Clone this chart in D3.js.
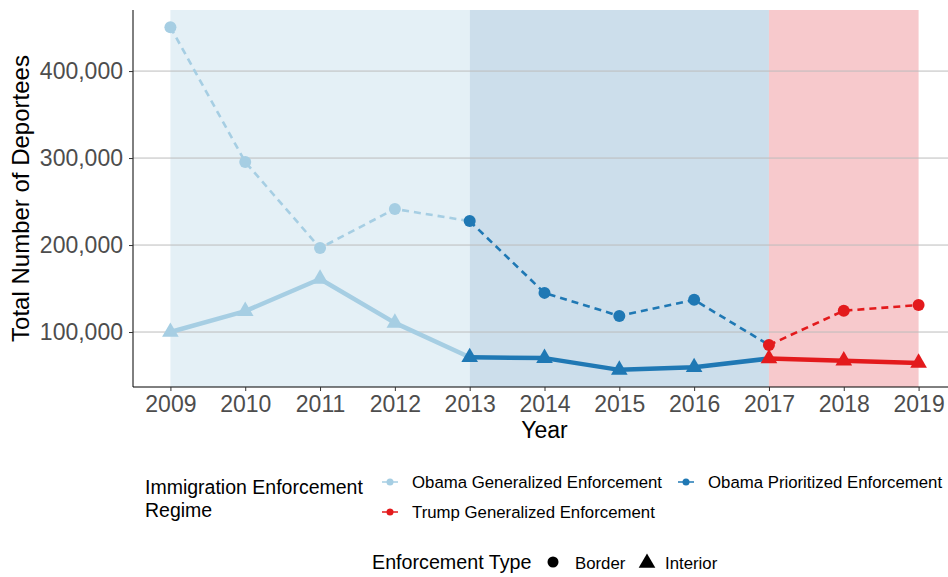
<!DOCTYPE html>
<html>
<head>
<meta charset="utf-8">
<script src="https://cdn.jsdelivr.net/npm/d3@7"></script>
<style>
  body { margin: 0; background: #fff; }
  text { font-family: "Liberation Sans", Arial, sans-serif; }
</style>
</head>
<body>
<svg id="chart" width="948" height="577"></svg>
<script>
// data
var years = [2009, 2010, 2011, 2012, 2013, 2014, 2015, 2016, 2017, 2018, 2019];
var borderValues = [450500, 295500, 196500, 241500, 227500, 145000, 118500, 137000, 85000, 124500, 131000];
var interiorValues = [100000, 124000, 161000, 110500, 71000, 70000, 56500, 59500, 69500, 67000, 64500];

var regimeNames = ["Obama Generalized Enforcement", "Obama Prioritized Enforcement", "Trump Generalized Enforcement"];
var regimeStart = [2009, 2013, 2017];
var regimeEnd = [2013, 2017, 2019];
var typeNames = ["Border", "Interior"];
var yTicks = [100000, 200000, 300000, 400000];

var regimeColors = ["#a6cee3", "#1f78b4", "#e31a1c"];
var regimeBg = ["#e4f0f6", "#ccdeeb", "#f7c9cc"];

var svg = d3.select("#chart");

var plotLeft = 133, plotRight = 956, plotTop = 10, plotBottom = 387;

function regimeOf(year) {
  if (year >= regimeStart[2]) return 2;
  if (year >= regimeStart[1]) return 1;
  return 0;
}

var allVals = borderValues.concat(interiorValues);
var lo = d3.min(allVals), hi = d3.max(allVals);
var pad = (hi - lo) * 0.05;

var x = d3.scaleLinear().domain([years[0] - 0.5, years[years.length - 1] + 0.5]).range([plotLeft, plotRight]);
var y = d3.scaleLinear().domain([lo - pad, hi + pad]).range([plotBottom, plotTop]);

/* regime background */
svg.append("g").selectAll("rect")
  .data(regimeNames).enter()
  .append("rect")
  .attr("x", (d, i) => x(regimeStart[i]))
  .attr("width", (d, i) => x(regimeEnd[i]) - x(regimeStart[i]))
  .attr("y", plotTop)
  .attr("height", plotBottom - plotTop)
  .attr("fill", (d, i) => regimeBg[i]);

/* grid */
svg.append("g").selectAll("line")
  .data(yTicks).enter()
  .append("line")
  .attr("x1", plotLeft).attr("x2", 948)
  .attr("y1", d => y(d)).attr("y2", d => y(d))
  .attr("stroke", "#bcbcbc")
  .attr("stroke-width", 1);

/* axes */
var yAxis = svg.append("g")
  .attr("transform", `translate(${plotLeft},0)`)
  .call(d3.axisLeft(y).tickValues(yTicks).tickFormat(d3.format(",")).tickSize(4).tickSizeOuter(0));
yAxis.select(".domain").attr("d", `M0,${plotTop}V${plotBottom}`).attr("stroke", "#000");
yAxis.selectAll(".tick line").attr("stroke", "#333");
yAxis.selectAll(".tick text")
  .attr("x", -10)
  .attr("fill", "#4d4d4d")
  .style("font-size", "23px");

var xAxis = svg.append("g")
  .attr("transform", `translate(0,${plotBottom})`)
  .call(d3.axisBottom(x).tickValues(years).tickFormat(d3.format("d")).tickSize(4).tickSizeOuter(0));
xAxis.select(".domain").attr("d", `M${plotLeft},0H948`).attr("stroke", "#000");
xAxis.selectAll(".tick line").attr("stroke", "#333");
xAxis.selectAll(".tick text")
  .attr("y", 9)
  .attr("fill", "#4d4d4d")
  .style("font-size", "23px");

svg.append("text")
  .attr("transform", `translate(29,${(plotTop + plotBottom) / 2}) rotate(-90)`)
  .attr("text-anchor", "middle")
  .style("font-size", "24px")
  .text("Total Number of Deportees");

svg.append("text")
  .attr("x", (plotLeft + plotRight) / 2)
  .attr("y", 438)
  .attr("text-anchor", "middle")
  .style("font-size", "23px")
  .text("Year");

/* lines, one piece per regime */
var line = d3.line().x(d => x(d.year)).y(d => y(d.value));

function points(values) {
  return years.map((yr, i) => ({ year: yr, value: values[i], regime: regimeOf(yr) }));
}
var borderPts = points(borderValues);
var interiorPts = points(interiorValues);

var lines = svg.append("g");
regimeNames.forEach(function (name, r) {
  var inRange = d => d.year >= regimeStart[r] && d.year <= regimeEnd[r];
  lines.append("path")
    .attr("d", line(borderPts.filter(inRange)))
    .attr("fill", "none")
    .attr("stroke", regimeColors[r])
    .attr("stroke-width", 2.6)
    .attr("stroke-dasharray", "7,5");
  lines.append("path")
    .attr("d", line(interiorPts.filter(inRange)))
    .attr("fill", "none")
    .attr("stroke", regimeColors[r])
    .attr("stroke-width", 4.5)
    .attr("stroke-linejoin", "round");
});

svg.append("g").selectAll("circle")
  .data(borderPts).enter()
  .append("circle")
  .attr("cx", d => x(d.year))
  .attr("cy", d => y(d.value))
  .attr("r", 6)
  .attr("fill", d => regimeColors[d.regime]);

var tri = d3.symbol().type(d3.symbolTriangle).size(120);
svg.append("g").selectAll("path")
  .data(interiorPts).enter()
  .append("path")
  .attr("d", tri)
  .attr("transform", d => `translate(${x(d.year)},${y(d.value)})`)
  .attr("fill", d => regimeColors[d.regime]);

/* legend: regime */
var leg = svg.append("g");
leg.append("text").attr("x", 145).attr("y", 494).style("font-size", "19.5px").text("Immigration Enforcement");
leg.append("text").attr("x", 145).attr("y", 517).style("font-size", "19.5px").text("Regime");

var legPos = [[382, 482], [678, 482], [382, 512]];
regimeNames.forEach(function (name, r) {
  var g = leg.append("g").attr("transform", `translate(${legPos[r][0]},${legPos[r][1]})`);
  g.append("line").attr("x1", 0).attr("x2", 16).attr("stroke", regimeColors[r]).attr("stroke-width", 1.5);
  g.append("circle").attr("cx", 8).attr("r", 3.5).attr("fill", regimeColors[r]);
  g.append("text").attr("x", 30).attr("y", 6).style("font-size", "16.8px").text(name);
});

/* legend: enforcement type */
var leg2 = svg.append("g");
leg2.append("text").attr("x", 372).attr("y", 569).style("font-size", "19.7px").text("Enforcement Type");
leg2.append("circle").attr("cx", 553).attr("cy", 562).attr("r", 5.5).attr("fill", "#000");
leg2.append("text").attr("x", 575).attr("y", 569).style("font-size", "16.8px").text(typeNames[0]);
leg2.append("path").attr("d", tri).attr("transform", "translate(647,563)").attr("fill", "#000");
leg2.append("text").attr("x", 665).attr("y", 569).style("font-size", "16.8px").text(typeNames[1]);
</script>
</body>
</html>
